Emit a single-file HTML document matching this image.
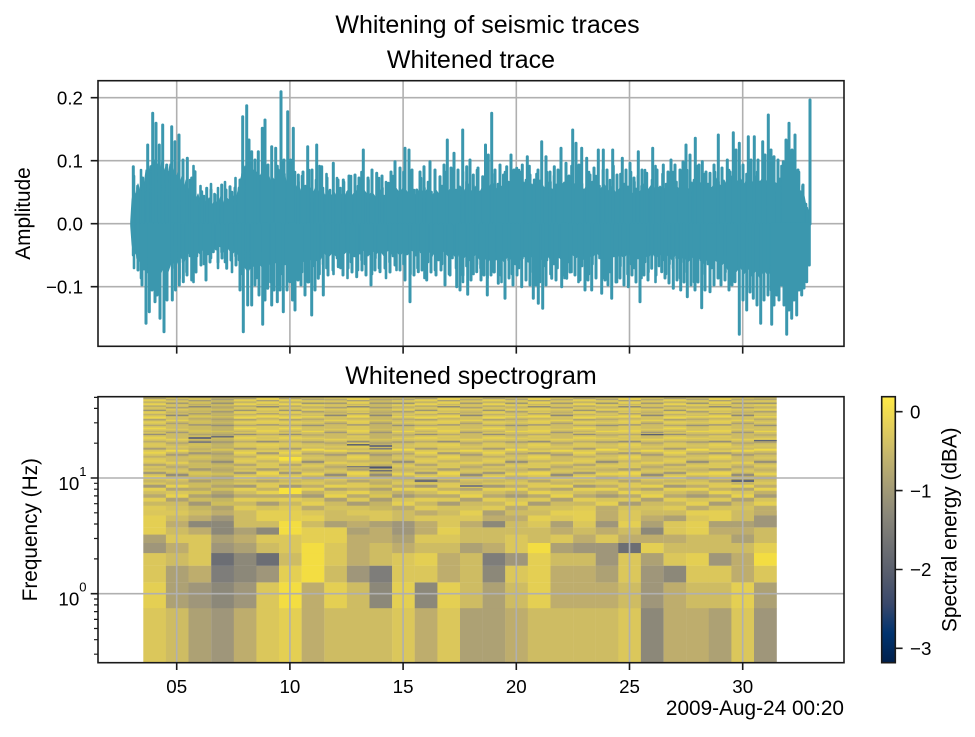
<!DOCTYPE html>
<html><head><meta charset="utf-8"><style>
html,body{margin:0;padding:0;background:#fff;}
svg{display:block;}
text{font-family:"Liberation Sans",Arial,sans-serif;fill:#000;}
.Y1{fill:#f3dd42}.Y2{fill:#e4cf53}.Y3{fill:#dbc75b}.O1{fill:#cebc63}.O2{fill:#bead6d}.O3{fill:#ada174}
.G1{fill:#9f967a}.G2{fill:#8c8879}.G3{fill:#7e7d7a}.G4{fill:#6c6e74}
</style></head><body>
<svg width="975" height="737" viewBox="0 0 975 737" xmlns="http://www.w3.org/2000/svg">
<defs>
<rect id="a" y="608" width="22.8" height="54.7"/>
<rect id="b" y="582.3" width="22.8" height="25.9"/>
<rect id="c" y="565.6" width="22.8" height="16.8"/>
<rect id="d" y="553" width="22.8" height="12.7"/>
<rect id="e" y="542.9" width="22.8" height="10.2"/>
<rect id="f" y="534.5" width="22.8" height="8.5"/>
<rect id="g" y="527.3" width="22.8" height="7.3"/>
<rect id="h" y="521" width="22.8" height="6.4"/>
<rect id="i" y="515.4" width="22.8" height="5.7"/>
<rect id="j" y="510.4" width="22.8" height="5.1"/>
<linearGradient id="cv" x1="0" y1="1" x2="0" y2="0">
<stop offset="0" stop-color="#00204c"/><stop offset="0.111" stop-color="#00336f"/><stop offset="0.222" stop-color="#39486b"/><stop offset="0.333" stop-color="#575d6d"/><stop offset="0.444" stop-color="#707173"/><stop offset="0.556" stop-color="#8a8779"/><stop offset="0.667" stop-color="#a69d75"/><stop offset="0.778" stop-color="#c4b56c"/><stop offset="0.889" stop-color="#e4cf5b"/><stop offset="1" stop-color="#ffea46"/>
</linearGradient>
<pattern id="pA" patternUnits="userSpaceOnUse" x="0" y="396.7" width="40" height="114">
<rect width="40" height="114" fill="#d9c65c"/>
<rect y="0" width="40" height="1" fill="#c8b867"/><rect y="1.5" width="40" height="0.8" fill="#968f79"/><rect y="3" width="40" height="1" fill="#e9d34d"/><rect y="5" width="40" height="0.8" fill="#b5a870"/><rect y="7" width="40" height="1" fill="#eed74a"/><rect y="9" width="40" height="0.8" fill="#a1987a"/><rect y="11" width="40" height="1" fill="#d3c160"/><rect y="13" width="40" height="1.2" fill="#8f8b79"/><rect y="15" width="40" height="1" fill="#e6d050"/><rect y="17.5" width="40" height="1" fill="#bcad6e"/><rect y="20" width="40" height="1.2" fill="#f0d947"/><rect y="22.5" width="40" height="1.2" fill="#a39a77"/><rect y="25" width="40" height="1.3" fill="#e4cf53"/><rect y="28" width="40" height="1.3" fill="#b0a372"/><rect y="31" width="40" height="1.5" fill="#ecd64b"/><rect y="34" width="40" height="1.5" fill="#c5b468"/><rect y="37" width="40" height="1.5" fill="#968f79"/><rect y="40.5" width="40" height="1.6" fill="#e8d24e"/><rect y="44" width="40" height="1.8" fill="#bcad6e"/><rect y="47.5" width="40" height="1.8" fill="#dcc85a"/><rect y="51" width="40" height="2" fill="#a99d75"/><rect y="55" width="40" height="2" fill="#ead44c"/><rect y="59" width="40" height="2" fill="#c2b169"/><rect y="63" width="40" height="2.2" fill="#e1cc55"/><rect y="67" width="40" height="2.4" fill="#b4a671"/><rect y="71" width="40" height="2.4" fill="#cebc63"/><rect y="75" width="40" height="2.5" fill="#a39a77"/><rect y="79.5" width="40" height="2.6" fill="#e8d24e"/><rect y="83" width="40" height="2.8" fill="#c8b766"/><rect y="88" width="40" height="3" fill="#a59b77"/><rect y="91" width="40" height="3" fill="#e4cf53"/><rect y="94.5" width="40" height="3.5" fill="#d0be62"/><rect y="97.6" width="40" height="3.5" fill="#b8aa70"/><rect y="101.1" width="40" height="3.8" fill="#e2cd54"/><rect y="104.9" width="40" height="4.2" fill="#cab963"/><rect y="109.1" width="40" height="4.6" fill="#dfca57"/>
</pattern>
<pattern id="pB" patternUnits="userSpaceOnUse" x="0" y="396.7" width="40" height="114">
<rect width="40" height="114" fill="#cfbe63"/>
<rect y="0" width="40" height="1" fill="#e4cf53"/><rect y="2" width="40" height="1" fill="#a09779"/><rect y="4" width="40" height="1" fill="#dcc85a"/><rect y="6" width="40" height="1" fill="#8a8779"/><rect y="8" width="40" height="1" fill="#e8d24e"/><rect y="10" width="40" height="1" fill="#c0af6b"/><rect y="12.5" width="40" height="1" fill="#e8d24e"/><rect y="14.5" width="40" height="1.2" fill="#a39a77"/><rect y="17" width="40" height="1" fill="#d8c55e"/><rect y="19.5" width="40" height="1.2" fill="#ecd64b"/><rect y="22" width="40" height="1.2" fill="#b3a572"/><rect y="25" width="40" height="1.4" fill="#dcc85a"/><rect y="28" width="40" height="1.4" fill="#958f79"/><rect y="31" width="40" height="1.5" fill="#d4c25f"/><rect y="34" width="40" height="1.5" fill="#ead44c"/><rect y="37.5" width="40" height="1.6" fill="#b9ab6f"/><rect y="41" width="40" height="1.7" fill="#e0cb56"/><rect y="44.5" width="40" height="1.8" fill="#ab9f74"/><rect y="48" width="40" height="2" fill="#d6c45e"/><rect y="52" width="40" height="2" fill="#f0d947"/><rect y="56" width="40" height="2" fill="#b6a870"/><rect y="60" width="40" height="2.2" fill="#d8c55e"/><rect y="64" width="40" height="2.3" fill="#968f79"/><rect y="68" width="40" height="2.4" fill="#dcc85a"/><rect y="72" width="40" height="2.5" fill="#c4b368"/><rect y="76" width="40" height="2.5" fill="#e6d150"/><rect y="80" width="40" height="2.6" fill="#b0a372"/><rect y="85" width="40" height="3" fill="#dac75b"/><rect y="88" width="40" height="3" fill="#bfae6c"/><rect y="91" width="40" height="3" fill="#e6d150"/><rect y="94.1" width="40" height="3.6" fill="#c2b169"/><rect y="97.6" width="40" height="3.5" fill="#a59b77"/><rect y="101.1" width="40" height="3.8" fill="#d6c45e"/><rect y="104.9" width="40" height="4.2" fill="#e4cf53"/><rect y="109.1" width="40" height="4.6" fill="#bcad6e"/>
</pattern>
<pattern id="pC" patternUnits="userSpaceOnUse" x="0" y="396.7" width="40" height="114">
<rect width="40" height="114" fill="#cdbb64"/>
<rect y="0" width="40" height="1.2" fill="#ead44c"/><rect y="2.5" width="40" height="1" fill="#b0a372"/><rect y="4" width="40" height="1" fill="#dcc85a"/><rect y="6" width="40" height="1" fill="#938d79"/><rect y="8" width="40" height="1.2" fill="#d8c55e"/><rect y="10.5" width="40" height="1" fill="#a39a77"/><rect y="12.5" width="40" height="1" fill="#e0cb56"/><rect y="15" width="40" height="1.2" fill="#bcad6e"/><rect y="18" width="40" height="1.2" fill="#7e7d7a"/><rect y="20.5" width="40" height="1.2" fill="#d6c45e"/><rect y="23" width="40" height="1.3" fill="#e8d24e"/><rect y="26" width="40" height="1.3" fill="#a79c75"/><rect y="29" width="40" height="1.4" fill="#d0be62"/><rect y="32" width="40" height="1.5" fill="#dcc85a"/><rect y="35" width="40" height="1.5" fill="#a1987a"/><rect y="38.5" width="40" height="1.6" fill="#cdbb63"/><rect y="42" width="40" height="1.8" fill="#e4cf53"/><rect y="45.5" width="40" height="1.8" fill="#b5a870"/><rect y="49" width="40" height="2" fill="#d9c65c"/><rect y="53" width="40" height="2" fill="#ecd64b"/><rect y="57" width="40" height="2.2" fill="#a99d75"/><rect y="61" width="40" height="2.2" fill="#cfbd63"/><rect y="65" width="40" height="2.3" fill="#e2cd54"/><rect y="69" width="40" height="2.4" fill="#b9ab6f"/><rect y="73" width="40" height="2.5" fill="#d6c45e"/><rect y="77" width="40" height="2.6" fill="#938d79"/><rect y="81" width="40" height="2.6" fill="#dcc85a"/><rect y="85.2" width="40" height="2.8" fill="#c6b567"/><rect y="88" width="40" height="3" fill="#e6d150"/><rect y="91" width="40" height="3.1" fill="#b3a572"/><rect y="94.1" width="40" height="3.6" fill="#d9c65c"/><rect y="97.6" width="40" height="3.5" fill="#e8d24e"/><rect y="101.1" width="40" height="3.8" fill="#aea173"/><rect y="104.9" width="40" height="4.2" fill="#cdbb63"/><rect y="109.1" width="40" height="4.6" fill="#d4c25f"/>
</pattern>
<pattern id="pD" patternUnits="userSpaceOnUse" x="0" y="396.7" width="40" height="114">
<rect width="40" height="114" fill="#dcc85a"/>
<rect y="0" width="40" height="1" fill="#bcad6e"/><rect y="1.8" width="40" height="1" fill="#ecd64b"/><rect y="3.5" width="40" height="1" fill="#a1987a"/><rect y="5.5" width="40" height="1" fill="#e6d150"/><rect y="7.5" width="40" height="1" fill="#c6b567"/><rect y="9.5" width="40" height="1.2" fill="#7e7d7a"/><rect y="12" width="40" height="1" fill="#e2cd54"/><rect y="14" width="40" height="1.2" fill="#d0be62"/><rect y="16.5" width="40" height="1.2" fill="#a99d75"/><rect y="19" width="40" height="1.2" fill="#f0d947"/><rect y="21.5" width="40" height="1.3" fill="#c2b169"/><rect y="24.5" width="40" height="1.3" fill="#e6d150"/><rect y="27.5" width="40" height="1.4" fill="#a09779"/><rect y="30.5" width="40" height="1.5" fill="#dac75b"/><rect y="33.5" width="40" height="1.5" fill="#ead44c"/><rect y="37" width="40" height="1.6" fill="#b8aa70"/><rect y="40.5" width="40" height="1.7" fill="#d6c45e"/><rect y="44" width="40" height="1.8" fill="#968f79"/><rect y="47.5" width="40" height="2" fill="#e4cf53"/><rect y="51.5" width="40" height="2" fill="#cdbb63"/><rect y="55.5" width="40" height="2.2" fill="#a59b77"/><rect y="59.5" width="40" height="2.2" fill="#e8d24e"/><rect y="63.5" width="40" height="2.3" fill="#c8b766"/><rect y="67.5" width="40" height="2.4" fill="#dac75b"/><rect y="71.5" width="40" height="2.5" fill="#ab9f74"/><rect y="75.5" width="40" height="2.6" fill="#ecd64b"/><rect y="80" width="40" height="2.6" fill="#cebc63"/><rect y="83" width="40" height="2.8" fill="#b4a671"/><rect y="88" width="40" height="3" fill="#dfca57"/><rect y="91" width="40" height="3.1" fill="#c4b368"/><rect y="94.1" width="40" height="3.6" fill="#e6d150"/><rect y="97.6" width="40" height="3.5" fill="#b9ab6f"/><rect y="101.1" width="40" height="3.8" fill="#ddc958"/><rect y="104.9" width="40" height="4.2" fill="#a99d75"/><rect y="109.1" width="40" height="4.6" fill="#d4c25f"/>
</pattern>
</defs>

<!-- Titles -->
<text x="487.5" y="33" font-size="25" text-anchor="middle">Whitening of seismic traces</text>
<text x="471" y="68" font-size="25" text-anchor="middle">Whitened trace</text>
<text x="471" y="384" font-size="25" text-anchor="middle">Whitened spectrogram</text>

<!-- ===== Top axes ===== -->
<g stroke="#b0b0b0" stroke-width="1.6" fill="none">
<path d="M176.7 80.7V346.3M289.9 80.7V346.3M403.1 80.7V346.3M516.3 80.7V346.3M629.5 80.7V346.3M742.7 80.7V346.3"/>
<path d="M98 97.7H844M98 160.7H844M98 223.7H844M98 286.7H844"/>
</g>
<g fill="#3b97ae" stroke="#3b97ae" stroke-width="1" stroke-linejoin="round">
<polygon points="130.7,222 132,200 134,188 136,196 138,184 140,192 142,178 144,186 146,170 148,180 150,166 152,176 154,160 156,172 158,164 160,174 162,160 164,172 166,166 168,176 170,164 172,178 174,168 176,180 178,172 180,184 182,176 184,190 186,180 188,192 190,186 192,196 194,190 196,200 198,194 200,202 203,196 206,204 209,198 212,206 215,200 218,204 221,196 224,204 227,198 230,202 233,196 236,200 239,186 241,178 243,170 245,166 247,174 249,168 251,176 253,170 255,180 257,172 259,182 261,174 263,178 265,172 267,182 269,176 271,184 273,178 275,182 277,174 279,180 281,172 283,182 285,176 287,186 289,180 291,188 293,182 295,190 298,184 301,192 304,186 307,194 310,188 313,194 316,186 319,194 322,188 325,196 328,190 331,196 334,192 337,198 340,192 344,198 348,190 352,196 356,190 360,198 364,190 368,196 372,192 376,198 380,190 384,196 388,192 392,198 396,188 400,194 404,186 408,194 412,190 416,196 420,188 424,194 428,188 432,196 436,190 440,196 444,186 448,192 452,186 456,194 460,186 464,192 468,184 472,192 476,186 480,192 484,184 488,190 492,182 496,190 500,184 504,190 508,182 512,190 516,184 520,190 524,182 528,188 532,184 536,190 540,180 544,188 548,182 552,190 556,184 560,188 564,182 568,190 572,180 576,188 580,184 584,190 588,184 592,192 596,186 600,190 604,184 608,192 612,186 616,194 620,188 624,192 628,186 632,194 636,188 640,192 644,184 648,190 652,184 656,192 660,186 664,190 668,184 672,192 676,186 680,190 684,182 688,190 692,182 696,188 700,182 704,190 708,184 712,188 716,178 720,186 724,180 728,188 732,176 736,184 740,178 744,186 748,176 752,184 756,176 760,182 764,176 768,184 772,176 776,184 780,178 784,186 788,178 792,188 796,184 800,192 803,190 806,206 808,210 810,216 810,232 808,250 806,262 803,268 800,272 796,266 792,276 788,270 784,278 780,270 776,276 772,268 768,276 764,268 760,278 756,270 752,276 748,268 744,274 740,266 736,272 732,264 728,270 724,262 720,268 716,260 712,266 708,258 704,264 700,258 696,262 692,256 688,262 684,256 680,260 676,254 672,260 668,254 664,260 660,254 656,258 652,252 648,258 644,254 640,260 636,254 632,258 628,252 624,258 620,254 616,258 612,252 608,258 604,254 600,256 596,252 592,258 588,254 584,260 580,254 576,258 572,254 568,260 564,254 560,258 556,256 552,262 548,256 544,262 540,258 536,264 532,256 528,262 524,256 520,260 516,254 512,260 508,256 504,262 500,256 496,260 492,254 488,262 484,256 480,260 476,254 472,258 468,252 464,258 460,252 456,258 452,252 448,256 444,250 440,256 436,250 432,256 428,250 424,256 420,250 416,256 412,250 408,254 404,250 400,256 396,250 392,254 388,250 384,256 380,250 376,254 372,250 368,256 364,250 360,254 356,252 352,256 348,250 344,254 340,250 336,256 332,252 328,258 324,252 320,260 316,254 312,262 308,256 304,262 300,258 296,264 292,258 288,266 284,260 280,268 276,262 272,268 268,262 264,270 260,264 256,270 252,264 248,272 244,266 240,258 236,250 232,254 228,248 224,252 220,246 216,250 212,246 208,252 204,248 200,254 196,250 192,258 188,252 184,262 180,256 176,266 172,260 168,272 164,264 160,276 156,268 152,274 148,266 144,270 140,260 138,264 136,252 134,256 132,244 130.7,226"/>
</g>
<g stroke="#3b97ae" stroke-width="2.6" stroke-linecap="round" fill="none">
<path d="M134 176V268M137.5 186V258M141 170V278M144.5 192V262M148 180V272M151.5 166V256M155 188V282M158.5 174V266M162 184V260M165.5 196V274M169 172V264M172.5 182V268M176 176V258M179.5 186V278M183 170V262M186.5 192V272M190 180V256M193.5 166V282M197 200V256M200.5 186V250M204 196V264M207.5 205V254M211 184V258M214.5 194V248M218 188V268M221.5 198V252M225 182V262M228.5 204V246M232 192V272M235.5 178V256M239 188V260M242.5 174V274M246 184V264M249.5 196V268M253 172V258M256.5 182V278M260 176V262M263.5 186V272M267 170V256M270.5 192V282M274 180V266M277.5 166V260M281 188V274M284.5 174V264M288 184V268M291.5 196V258M295 172V278M298.5 182V262M302 176V272M305.5 186V256M309 170V282M312.5 192V266M316 180V260M319.5 166V274M323 188V264M326.5 174V268M330 190V254M333.5 202V274M337 178V258M340.5 188V268M344 182V252M347.5 192V278M351 176V262M354.5 198V256M358 186V270M361.5 172V260M365 194V264M368.5 180V254M372 190V274M375.5 202V258M379 178V268M382.5 188V252M386 182V278M389.5 192V262M393 176V256M396.5 198V270M400 186V260M403.5 172V264M407 194V254M410.5 180V274M414 190V258M417.5 202V268M421 178V252M424.5 188V278M428 182V262M431.5 192V256M435 176V270M438.5 198V260M442 186V264M445.5 172V254M449 194V274M452.5 180V258M456 190V268M459.5 196V256M463 172V282M466.5 182V266M470 176V260M473.5 186V274M477 170V264M480.5 192V268M484 180V258M487.5 166V278M491 188V262M494.5 174V272M498 184V256M501.5 196V282M505 172V266M508.5 182V260M512 176V274M515.5 186V264M519 170V268M522.5 192V258M526 180V278M529.5 166V262M533 188V272M536.5 174V256M540 184V282M543.5 196V266M547 172V260M550.5 182V274M554 176V264M557.5 186V268M561 170V258M564.5 192V278M568 180V262M571.5 166V272M575 188V256M578.5 174V282M582 184V266M585.5 196V260M589 172V274M592.5 182V264M596 176V268M599.5 186V258M603 170V278M606.5 192V262M610 180V272M613.5 166V256M617 188V282M620.5 174V266M624 184V260M627.5 196V274M631 172V264M634.5 182V268M638 176V258M641.5 186V278M645 170V262M648.5 192V272M652 180V256M655.5 166V282M659 188V266M662.5 174V260M666 184V274M669.5 196V264M673 172V268M676.5 182V258M680 176V278M683.5 186V262M687 170V272M690.5 192V256M694 180V282M697.5 166V266M701 188V260M704.5 174V274M708 184V264M711.5 196V268M715 172V258M718.5 182V278M722 176V262M725.5 186V272M729 170V256M732.5 192V282M736 180V266M739.5 166V268M743 188V282M746.5 174V272M750 184V276M753.5 196V266M757 172V286M760.5 182V270M764 176V280M767.5 186V264M771 170V290M774.5 192V274M778 180V268M781.5 166V282M785 188V272M788.5 174V270M792 184V284M795.5 196V274M799 172V268M802.5 186V262M806 204V248"/>
</g>
<g stroke="#3b97ae" stroke-width="3" stroke-linecap="round" fill="none">
<path d="M133.3 166.7V224M137.7 188V224M142.7 178V224M147.7 145V224M152.7 113.3V224M156 123.3V224M159.3 145V224M162.7 125V224M166.7 165V224M171.7 126.7V224M175 141.7V224M179 135V224M183 160V224M187.3 158.3V224M191.7 178V224M195 171.7V224M201.7 191.7V224M206.7 188.3V224M211 190V224M215 195V224M221.7 185V224M226 190V224M230 186.7V224M235 188V224M240 180V224M242.7 116.7V224M246.7 105.7V224M249 140V224M251.7 151.7V224M255 160V224M258.3 151.7V224M262.3 128.3V224M265 120V224M268 165V224M271.7 146.7V224M275.7 148.3V224M278 170V224M281 91.7V224M284 160V224M287.7 111.7V224M290.5 160V224M293.3 128.3V224M298.3 175V224M303 172V224M307.7 146.7V224M312 170V224M316.7 145V224M321.7 166.7V224M327 178V224M333.3 163.3V224M338 180V224M343.3 180V224M349 176V224M355 175V224M359 178V224M363.3 150V224M368 178V224M372 170V224M376.7 173.3V224M382 176V224M388.3 183.3V224M391 172V224M395 161.7V224M400 168V224M405 148.3V224M409 150V224M412 170V224M416.7 190V224M420 172V224M424 166.7V224M430 161.7V224M435 170V224M440 176.7V224M444 165V224M447.3 140V224M451 168V224M454 153.3V224M458 170V224M462.7 130V224M466.7 166.7V224M470 160V224M473.3 175V224M478 168V224M482.7 176.7V224M485.5 145V224M488.3 155V224M491.7 113.3V224M495 170V224M500 165V224M503.5 175V224M506.7 166.7V224M511 155V224M514 170V224M516.7 168.3V224M519.5 172V224M522.3 165V224M527.3 156.7V224M530 175V224M534.3 180V224M538 170V224M541.7 141.7V224M546 156.7V224M550 172V224M554.3 166.7V224M558 170V224M561 148.3V224M566 163.3V224M569 176V224M572.7 130V224M576 143.3V224M579 165V224M581.7 148.3V224M586.7 158.3V224M590 175V224M594 168V224M598.3 150V224M603.3 150V224M607 170V224M612.7 150V224M617 175V224M622.3 158.3V224M626 170V224M630 163.3V224M634 178V224M638.3 151.7V224M642 170V224M646.7 173.3V224M652.7 148.3V224M657 170V224M663.3 165V224M668 172V224M671 160V224M675 165V224M680 170V224M683 162V224M686 145V224M690 155V224M695.3 138.3V224M699 165V224M702.3 161.7V224M706 172V224M710 173.3V224M714 165V224M718.3 135V224M722 168V224M727.3 160V224M730 172V224M733.3 132.7V224M736 150V224M739.3 143.3V224M743 165V224M748.3 136.7V224M751 160V224M754.3 136.7V224M758 160V224M762.7 141.7V224M765 155V224M768.3 115V224M771 150V224M774 156.7V224M778 160V224M783.3 161.7V224M786 140V224M789 123.3V224M792 150V224M795 135V224M798 170V224M800 191.7V224M803 185V224M806.7 208.3V224M810 100V224"/>
<path d="M133.3 255V224M138 270V224M142 285V224M146 323.3V224M149.3 311.7V224M152 290V224M155 301.7V224M157 295V224M160 318.3V224M164 331.7V224M167 300V224M172.3 300V224M175.5 290V224M179.3 285V224M183.3 281.7V224M187 275V224M191.7 280V224M196 272V224M201 265V224M206 280V224M210 262V224M213.3 251.7V224M218 262V224M222 258V224M226.7 268.3V224M231 260V224M236 265V224M240 290V224M243.3 331.7V224M247.7 305V224M251.7 305V224M255 285V224M259 295V224M262.7 324.3V224M265 300V224M267.7 288.3V224M271.7 305V224M274 290V224M277.3 301.7V224M280 290V224M283.3 311.7V224M287 290V224M290 281.7V224M292.5 300V224M295 310V224M298 280V224M301 285V224M305 295V224M308 282V224M311.7 315V224M315 290V224M318.3 278.3V224M323.3 295V224M328 275V224M333 270V224M338.3 266.7V224M343 275V224M348 268V224M352 272V224M356.7 276.7V224M362 270V224M366 275V224M371 285V224M375 270V224M380 271.7V224M385 268V224M390 272V224M395 265V224M400 270V224M405 280V224M410 301.7V224M414 275V224M418.3 271.7V224M422 270V224M426.7 280V224M431 272V224M436 275V224M441 270V224M445 285V224M450 275V224M456.7 286.7V224M460 290V224M463 275V224M467.7 294.3V224M471 280V224M476.7 271.7V224M481 280V224M484 275V224M487.3 295V224M491 275V224M494 272V224M498.3 283.3V224M501 275V224M505 298.3V224M509 278V224M513 285V224M517 275V224M521.7 286.7V224M526 280V224M530 285V224M533.3 298.3V224M536 285V224M538.3 303.3V224M542.7 308.3V224M546 285V224M551.7 278.3V224M556 280V224M561.7 286.7V224M564 275V224M566.7 278.3V224M570 272V224M575 275V224M580 280V224M585 290V224M588 280V224M591.7 290V224M596 278V224M601.7 293.3V224M605 280V224M608 285V224M611.7 298.3V224M616 282V224M620 278V224M624 285V224M628.3 286.7V224M632 275V224M636 282V224M640 301.7V224M644 275V224M648 280V224M651.7 268.3V224M656 275V224M661.7 271.7V224M665 278V224M669 283V224M673.3 288.3V224M677 280V224M680.7 290V224M684 282V224M687.3 296.7V224M691 285V224M695 290V224M698 282V224M701.7 307.7V224M705 290V224M710 291.7V224M714 285V224M718 278V224M721 285V224M725 280V224M729 290V224M732 285V224M735 281.7V224M739.3 334.3V224M743 300V224M746.7 310V224M750 292V224M753.3 298.3V224M757 305V224M760.7 323.3V224M764 300V224M768 295V224M771.7 324.3V224M774 305V224M776.7 295V224M779 300V224M781.7 285V224M784 305V224M786.7 334.3V224M789 310V224M791.7 318.3V224M794 300V224M796.7 315V224M799 290V224M801.7 295V224M804 288V224M806.7 281.7V224M809.3 265V224"/>
</g>
<rect x="98" y="80.7" width="746" height="265.6" fill="none" stroke="#1a1a1a" stroke-width="1.6"/>
<g stroke="#1a1a1a" stroke-width="1.6">
<path d="M90.7 97.7H98M90.7 160.7H98M90.7 223.7H98M90.7 286.7H98"/>
<path d="M176.7 346.3V353.6M289.9 346.3V353.6M403.1 346.3V353.6M516.3 346.3V353.6M629.5 346.3V353.6M742.7 346.3V353.6"/>
</g>
<g font-size="18.75" text-anchor="end">
<text x="83" y="104.4">0.2</text>
<text x="83" y="167.4">0.1</text>
<text x="83" y="230.4">0.0</text>
<text x="83" y="293.4">−0.1</text>
</g>
<text transform="translate(30.2 213.5) rotate(-90)" font-size="20.8" text-anchor="middle">Amplitude</text>

<!-- ===== Bottom axes (spectrogram) ===== -->
<g>
<g transform="translate(143.3 0)"><rect y="396.7" width="22.8" height="113.8" fill="url(#pA)"/><use href="#a" class="Y3"/><use href="#b" class="Y2"/><use href="#c" class="Y3"/><use href="#d" class="Y3"/><use href="#e" class="G1"/><use href="#f" class="O3"/><use href="#g" class="Y2"/><use href="#h" class="Y2"/><use href="#i" class="Y2"/><use href="#j" class="Y3"/></g>
<g transform="translate(165.9 0)"><rect y="396.7" width="22.8" height="113.8" fill="url(#pC)"/><use href="#a" class="O1"/><use href="#b" class="O3"/><use href="#c" class="O3"/><use href="#d" class="O1"/><use href="#e" class="O2"/><use href="#f" class="Y3"/><use href="#g" class="O1"/><use href="#h" class="O2"/><use href="#i" class="O1"/><use href="#j" class="Y3"/></g>
<g transform="translate(188.5 0)"><rect y="396.7" width="22.8" height="113.8" fill="url(#pD)"/><rect y="396.7" width="22.8" height="113.8" fill="#8a8779" opacity="0.2"/><rect y="437" width="22.8" height="2" fill="#6a6c73"/><rect y="441.5" width="22.8" height="1.5" fill="#7e7d7a"/><use href="#a" class="O3"/><use href="#b" class="G1"/><use href="#c" class="O2"/><use href="#d" class="Y3"/><use href="#e" class="Y3"/><use href="#f" class="Y3"/><use href="#g" class="O2"/><use href="#h" class="G2"/><use href="#i" class="O2"/><use href="#j" class="O1"/></g>
<g transform="translate(211.2 0)"><rect y="396.7" width="22.8" height="113.8" fill="url(#pB)"/><rect y="396.7" width="22.8" height="113.8" fill="#8a8779" opacity="0.25"/><rect y="436" width="22.8" height="1.5" fill="#6c6e74"/><use href="#a" class="G1"/><use href="#b" class="G2"/><use href="#c" class="G3"/><use href="#d" class="G4"/><use href="#e" class="G1"/><use href="#f" class="O3"/><use href="#g" class="G2"/><use href="#h" class="G2"/><use href="#i" class="G1"/><use href="#j" class="O2"/></g>
<g transform="translate(233.8 0)"><rect y="396.7" width="22.8" height="113.8" fill="url(#pA)"/><use href="#a" class="O2"/><use href="#b" class="G1"/><use href="#c" class="G2"/><use href="#d" class="G2"/><use href="#e" class="O3"/><use href="#f" class="O2"/><use href="#g" class="O3"/><use href="#h" class="O1"/><use href="#i" class="O1"/><use href="#j" class="O1"/></g>
<g transform="translate(256.4 0)"><rect y="396.7" width="22.8" height="113.8" fill="url(#pD)"/><use href="#a" class="Y3"/><use href="#b" class="Y3"/><use href="#c" class="G1"/><use href="#d" class="G4"/><use href="#e" class="O1"/><use href="#f" class="Y3"/><use href="#g" class="G2"/><use href="#h" class="O1"/><use href="#i" class="Y2"/><use href="#j" class="Y2"/></g>
<g transform="translate(279 0)"><rect y="396.7" width="22.8" height="113.8" fill="url(#pA)"/><rect y="456.7" width="22.8" height="4" fill="#f7e13c"/><rect y="488" width="22.8" height="6" fill="#f7e13c"/><use href="#a" class="Y2"/><use href="#b" class="Y1"/><use href="#c" class="Y2"/><use href="#d" class="O1"/><use href="#e" class="Y3"/><use href="#f" class="Y3"/><use href="#g" class="Y1"/><use href="#h" class="Y1"/><use href="#i" class="Y2"/><use href="#j" class="Y2"/></g>
<g transform="translate(301.6 0)"><rect y="396.7" width="22.8" height="113.8" fill="url(#pB)"/><use href="#a" class="O2"/><use href="#b" class="O2"/><use href="#c" class="Y1"/><use href="#d" class="Y1"/><use href="#e" class="Y1"/><use href="#f" class="Y2"/><use href="#g" class="Y2"/><use href="#h" class="O1"/><use href="#i" class="Y2"/><use href="#j" class="Y3"/></g>
<g transform="translate(324.3 0)"><rect y="396.7" width="22.8" height="113.8" fill="url(#pC)"/><use href="#a" class="O1"/><use href="#b" class="Y2"/><use href="#c" class="O1"/><use href="#d" class="Y3"/><use href="#e" class="Y3"/><use href="#f" class="Y2"/><use href="#g" class="Y2"/><use href="#h" class="O3"/><use href="#i" class="O1"/><use href="#j" class="O1"/></g>
<g transform="translate(346.9 0)"><rect y="396.7" width="22.8" height="113.8" fill="url(#pD)"/><rect y="444" width="22.8" height="1.6" fill="#60646f"/><rect y="466" width="22.8" height="1.5" fill="#7e7d7a"/><use href="#a" class="O1"/><use href="#b" class="O1"/><use href="#c" class="G1"/><use href="#d" class="O2"/><use href="#e" class="O2"/><use href="#f" class="O2"/><use href="#g" class="O3"/><use href="#h" class="O2"/><use href="#i" class="O1"/><use href="#j" class="Y3"/></g>
<g transform="translate(369.5 0)"><rect y="396.7" width="22.8" height="113.8" fill="url(#pC)"/><rect y="396.7" width="22.8" height="113.8" fill="#8a8779" opacity="0.15"/><rect y="445" width="22.8" height="2" fill="#6f7074"/><rect y="448" width="22.8" height="1.5" fill="#7e7d7a"/><rect y="466.5" width="22.8" height="2" fill="#4d5570"/><rect y="470" width="22.8" height="1.5" fill="#6c6e74"/><use href="#a" class="O1"/><use href="#b" class="G2"/><use href="#c" class="G3"/><use href="#d" class="O1"/><use href="#e" class="O1"/><use href="#f" class="O2"/><use href="#g" class="O2"/><use href="#h" class="O3"/><use href="#i" class="Y3"/><use href="#j" class="Y3"/></g>
<g transform="translate(392.1 0)"><rect y="396.7" width="22.8" height="113.8" fill="url(#pB)"/><use href="#a" class="Y3"/><use href="#b" class="Y2"/><use href="#c" class="Y3"/><use href="#d" class="Y3"/><use href="#e" class="O2"/><use href="#f" class="O3"/><use href="#g" class="G1"/><use href="#h" class="G1"/><use href="#i" class="O1"/><use href="#j" class="O1"/></g>
<g transform="translate(414.7 0)"><rect y="396.7" width="22.8" height="113.8" fill="url(#pA)"/><rect y="479.5" width="22.8" height="2.5" fill="#6c6e74"/><use href="#a" class="O2"/><use href="#b" class="G2"/><use href="#c" class="Y3"/><use href="#d" class="Y2"/><use href="#e" class="O1"/><use href="#f" class="Y3"/><use href="#g" class="O2"/><use href="#h" class="O2"/><use href="#i" class="Y3"/><use href="#j" class="O2"/></g>
<g transform="translate(437.4 0)"><rect y="396.7" width="22.8" height="113.8" fill="url(#pD)"/><use href="#a" class="Y3"/><use href="#b" class="Y2"/><use href="#c" class="O2"/><use href="#d" class="O2"/><use href="#e" class="O1"/><use href="#f" class="Y3"/><use href="#g" class="Y2"/><use href="#h" class="Y3"/><use href="#i" class="Y3"/><use href="#j" class="O1"/></g>
<g transform="translate(460 0)"><rect y="396.7" width="22.8" height="113.8" fill="url(#pC)"/><rect y="485" width="22.8" height="2" fill="#7e7d7a"/><use href="#a" class="O3"/><use href="#b" class="O1"/><use href="#c" class="O1"/><use href="#d" class="O1"/><use href="#e" class="O3"/><use href="#f" class="O1"/><use href="#g" class="O1"/><use href="#h" class="O2"/><use href="#i" class="Y3"/><use href="#j" class="Y2"/></g>
<g transform="translate(482.6 0)"><rect y="396.7" width="22.8" height="113.8" fill="url(#pA)"/><use href="#a" class="O3"/><use href="#b" class="O3"/><use href="#c" class="G2"/><use href="#d" class="G3"/><use href="#e" class="O2"/><use href="#f" class="O1"/><use href="#g" class="O1"/><use href="#h" class="G2"/><use href="#i" class="O2"/><use href="#j" class="O3"/></g>
<g transform="translate(505.2 0)"><rect y="396.7" width="22.8" height="113.8" fill="url(#pB)"/><use href="#a" class="O2"/><use href="#b" class="O1"/><use href="#c" class="Y3"/><use href="#d" class="G1"/><use href="#e" class="Y3"/><use href="#f" class="Y3"/><use href="#g" class="O1"/><use href="#h" class="O1"/><use href="#i" class="O2"/><use href="#j" class="O1"/></g>
<g transform="translate(527.8 0)"><rect y="396.7" width="22.8" height="113.8" fill="url(#pD)"/><use href="#a" class="O1"/><use href="#b" class="Y2"/><use href="#c" class="Y2"/><use href="#d" class="Y2"/><use href="#e" class="Y1"/><use href="#f" class="O1"/><use href="#g" class="O1"/><use href="#h" class="Y3"/><use href="#i" class="Y2"/><use href="#j" class="O1"/></g>
<g transform="translate(550.5 0)"><rect y="396.7" width="22.8" height="113.8" fill="url(#pC)"/><use href="#a" class="O1"/><use href="#b" class="O2"/><use href="#c" class="O2"/><use href="#d" class="O1"/><use href="#e" class="O3"/><use href="#f" class="Y3"/><use href="#g" class="O2"/><use href="#h" class="O3"/><use href="#i" class="Y3"/><use href="#j" class="Y2"/></g>
<g transform="translate(573.1 0)"><rect y="396.7" width="22.8" height="113.8" fill="url(#pA)"/><use href="#a" class="O1"/><use href="#b" class="O2"/><use href="#c" class="O2"/><use href="#d" class="O1"/><use href="#e" class="G1"/><use href="#f" class="O2"/><use href="#g" class="O1"/><use href="#h" class="Y3"/><use href="#i" class="Y2"/><use href="#j" class="Y2"/></g>
<g transform="translate(595.7 0)"><rect y="396.7" width="22.8" height="113.8" fill="url(#pB)"/><use href="#a" class="O1"/><use href="#b" class="O2"/><use href="#c" class="O3"/><use href="#d" class="G1"/><use href="#e" class="G1"/><use href="#f" class="Y3"/><use href="#g" class="O2"/><use href="#h" class="G1"/><use href="#i" class="O2"/><use href="#j" class="O2"/></g>
<g transform="translate(618.3 0)"><rect y="396.7" width="22.8" height="113.8" fill="url(#pD)"/><use href="#a" class="Y3"/><use href="#b" class="O1"/><use href="#c" class="Y3"/><use href="#d" class="Y3"/><use href="#e" class="G4"/><use href="#f" class="O2"/><use href="#g" class="O1"/><use href="#h" class="Y2"/><use href="#i" class="Y3"/><use href="#j" class="Y3"/></g>
<g transform="translate(640.9 0)"><rect y="396.7" width="22.8" height="113.8" fill="url(#pC)"/><rect y="434" width="22.8" height="1.3" fill="#5a5f70"/><use href="#a" class="G2"/><use href="#b" class="G1"/><use href="#c" class="G1"/><use href="#d" class="O3"/><use href="#e" class="Y2"/><use href="#f" class="O2"/><use href="#g" class="G2"/><use href="#h" class="O3"/><use href="#i" class="O2"/><use href="#j" class="O1"/></g>
<g transform="translate(663.6 0)"><rect y="396.7" width="22.8" height="113.8" fill="url(#pA)"/><use href="#a" class="O2"/><use href="#b" class="O2"/><use href="#c" class="G2"/><use href="#d" class="Y3"/><use href="#e" class="O1"/><use href="#f" class="O2"/><use href="#g" class="Y3"/><use href="#h" class="Y3"/><use href="#i" class="O3"/><use href="#j" class="O1"/></g>
<g transform="translate(686.2 0)"><rect y="396.7" width="22.8" height="113.8" fill="url(#pB)"/><use href="#a" class="O2"/><use href="#b" class="O1"/><use href="#c" class="Y3"/><use href="#d" class="Y2"/><use href="#e" class="O1"/><use href="#f" class="O1"/><use href="#g" class="Y2"/><use href="#h" class="Y2"/><use href="#i" class="Y3"/><use href="#j" class="Y2"/></g>
<g transform="translate(708.8 0)"><rect y="396.7" width="22.8" height="113.8" fill="url(#pD)"/><use href="#a" class="O3"/><use href="#b" class="O1"/><use href="#c" class="Y3"/><use href="#d" class="G1"/><use href="#e" class="O1"/><use href="#f" class="O1"/><use href="#g" class="O2"/><use href="#h" class="O3"/><use href="#i" class="Y2"/><use href="#j" class="Y2"/></g>
<g transform="translate(731.4 0)"><rect y="396.7" width="22.8" height="113.8" fill="url(#pC)"/><rect y="479.5" width="22.8" height="2.5" fill="#5f6576"/><use href="#a" class="Y3"/><use href="#b" class="Y2"/><use href="#c" class="O2"/><use href="#d" class="O2"/><use href="#e" class="O1"/><use href="#f" class="O3"/><use href="#g" class="O2"/><use href="#h" class="O3"/><use href="#i" class="O1"/><use href="#j" class="O1"/></g>
<g transform="translate(754 0)"><rect y="396.7" width="22.7" height="113.8" fill="url(#pB)"/><rect y="440" width="22.7" height="1.2" fill="#5f6576"/><use href="#a" class="G1"/><use href="#b" class="O3"/><use href="#c" class="Y3"/><use href="#d" class="Y1"/><use href="#e" class="Y2"/><use href="#f" class="O1"/><use href="#g" class="O1"/><use href="#h" class="G1"/><use href="#i" class="G1"/><use href="#j" class="O2"/></g>
</g>
<g stroke="#b0b0b0" stroke-width="1.6" fill="none">
<path d="M176.7 396.7V662.7M289.9 396.7V662.7M403.1 396.7V662.7M516.3 396.7V662.7M629.5 396.7V662.7M742.7 396.7V662.7"/>
<path d="M98 478H844M98 593.7H844"/>
</g>
<rect x="98" y="396.7" width="746" height="266" fill="none" stroke="#1a1a1a" stroke-width="1.6"/>
<g stroke="#1a1a1a" stroke-width="1.6">
<path d="M176.7 662.7V670M289.9 662.7V670M403.1 662.7V670M516.3 662.7V670M629.5 662.7V670M742.7 662.7V670"/>
<path d="M90.7 478H98M90.7 593.7H98"/>
</g>
<g stroke="#1a1a1a" stroke-width="1.2">
<path d="M94 654.2H98M94 639.7H98M94 628.5H98M94 619.4H98M94 611.6H98M94 604.9H98M94 599H98M94 558.9H98M94 538.5H98M94 524H98M94 512.8H98M94 503.7H98M94 495.9H98M94 489.2H98M94 483.3H98M94 443.2H98M94 422.8H98M94 408.4H98M94 397.4H98"/>
</g>
<g font-size="18.75" text-anchor="middle">
<text x="176.7" y="693">05</text>
<text x="289.9" y="693">10</text>
<text x="403.1" y="693">15</text>
<text x="516.3" y="693">20</text>
<text x="629.5" y="693">25</text>
<text x="742.7" y="693">30</text>
</g>
<text x="844" y="715" font-size="20.8" text-anchor="end">2009-Aug-24 00:20</text>
<g font-size="18.75" text-anchor="end">
<text x="86.5" y="490">10<tspan dy="-14" font-size="13">1</tspan></text>
<text x="86.5" y="605.7">10<tspan dy="-14" font-size="13">0</tspan></text>
</g>
<text transform="translate(36.9 529.7) rotate(-90)" font-size="20.8" text-anchor="middle">Frequency (Hz)</text>

<!-- ===== Colorbar ===== -->
<rect x="881.7" y="396.7" width="13.6" height="266" fill="url(#cv)" stroke="#1a1a1a" stroke-width="1.6"/>
<g stroke="#1a1a1a" stroke-width="1.6">
<path d="M895.3 411.7H902.6M895.3 490.6H902.6M895.3 569.5H902.6M895.3 648.3H902.6"/>
</g>
<g font-size="18.75">
<text x="910" y="418.4">0</text>
<text x="910" y="497.3">−1</text>
<text x="910" y="576.2">−2</text>
<text x="910" y="655">−3</text>
</g>
<text transform="translate(956.6 529.7) rotate(-90)" font-size="20.8" text-anchor="middle">Spectral energy (dBA)</text>
</svg>
</body></html>
